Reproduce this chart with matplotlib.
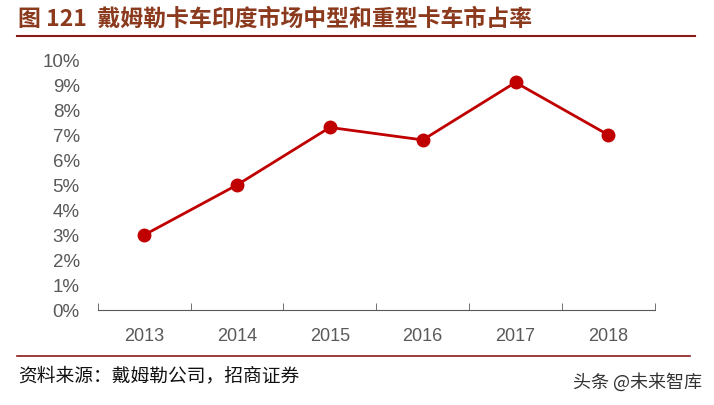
import numpy as np
import matplotlib.pyplot as plt
from matplotlib.lines import Line2D

plt.rcParams['font.family'] = ['Noto Sans CJK SC', 'DejaVu Sans']

years = ['2013', '2014', '2015', '2016', '2017', '2018']
share = [3.0, 5.0, 7.3, 6.8, 9.1, 7.0]
yticks = list(range(0, 11))

fig = plt.figure(figsize=(7.14, 4.06), dpi=100)
ax = fig.add_axes([0.137, 0.234, 0.78, 0.616])

x = np.arange(len(years))
ax.plot(x, share, '-o', color='#C00000', lw=2.0, ms=9)

ax.set_xlim(-0.5, len(years) - 0.5)
ax.set_ylim(0, 10)
ax.set_yticks(yticks)
ax.set_yticklabels([f'{v}%' for v in yticks], fontsize=13.5, color='#595959',
                   family=['Liberation Sans', 'DejaVu Sans'])
ax.set_xticks(x)
ax.set_xticklabels(years, fontsize=13, color='#595959',
                   family=['Liberation Sans', 'DejaVu Sans'])
ax.set_xticks(np.arange(-0.5, len(years)), minor=True)
ax.tick_params(axis='x', which='major', length=0, pad=12)
ax.tick_params(axis='x', which='minor', direction='in', length=5, color='#595959')
ax.tick_params(axis='y', length=0, pad=13)
for s in ['top', 'right', 'left']:
    ax.spines[s].set_visible(False)
ax.spines['bottom'].set_color('#595959')

fig.text(18 / 714, 1 - 19 / 406, '图 121  戴姆勒卡车印度市场中型和重型卡车市占率',
         fontsize=16.5, fontweight='bold', color='#8B3A1E', va='center', ha='left')
fig.add_artist(Line2D([17 / 714, 695 / 714], [1 - 37 / 406, 1 - 37 / 406],
                      color='#8B1A1A', lw=1.5))
fig.add_artist(Line2D([17 / 714, 690 / 714], [1 - 357 / 406, 1 - 357 / 406],
                      color='#8B1A1A', lw=1.2))
fig.text(18 / 714, 1 - 376 / 406, '资料来源：戴姆勒公司，招商证券',
         fontsize=13.5, color='#111111', va='center', ha='left')
fig.text(702 / 714, 1 - 382 / 406, '头条 @未来智库',
         fontsize=13, color='#333333', va='center', ha='right')

fig.savefig('out.png', dpi=100)
